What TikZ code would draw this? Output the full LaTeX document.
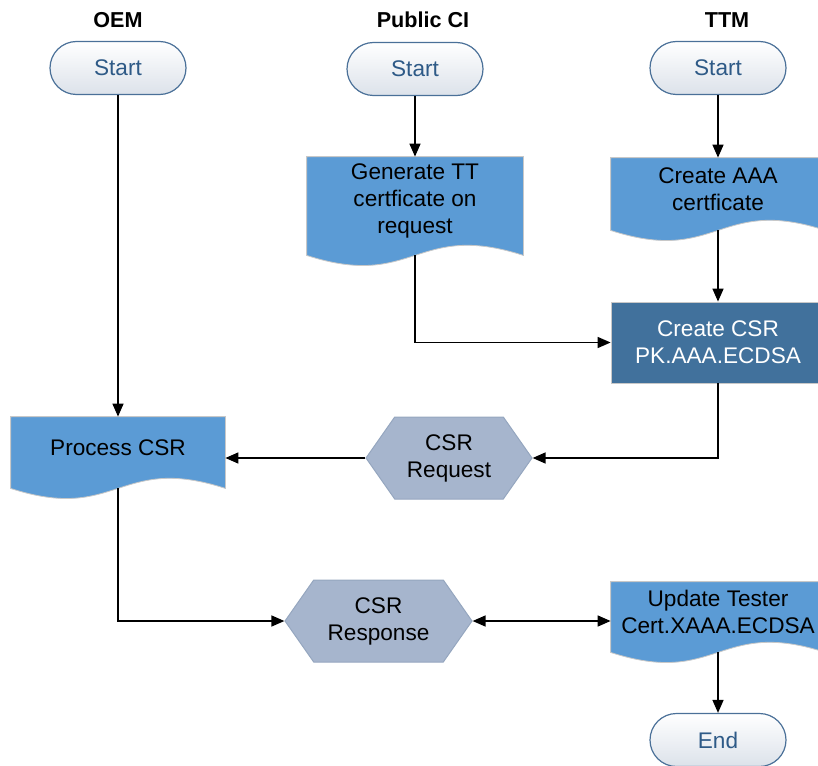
\documentclass[tikz,border=0pt]{standalone}
\usepackage{fontspec}
\setmainfont{Liberation Sans}
\usetikzlibrary{arrows.meta,calc,backgrounds,shapes.symbols}
\definecolor{docblue}{HTML}{5B9BD5}
\definecolor{csrblue}{HTML}{41719C}
\definecolor{hexgray}{HTML}{A6B5CD}
\definecolor{hexedge}{HTML}{95A6BF}
\definecolor{termedge}{HTML}{4A7098}
\definecolor{termtext}{HTML}{2E5A87}
\definecolor{termfill}{HTML}{DCE2EA}
\definecolor{lightedge}{HTML}{C8C8C8}

\begin{document}
\begin{tikzpicture}[x=0.5pt, y=-0.5pt,
    font=\fontsize{11.3}{13.5}\selectfont,
    >={Triangle[length=6.5pt,width=5.5pt]},
    head/.style={font=\fontsize{10.8}{12}\selectfont\bfseries},
    term/.style={rectangle, rounded corners=13.25pt, draw=termedge, line width=0.6pt,
        top color=white, bottom color=termfill, text=termtext,
        minimum width=68pt, minimum height=26.5pt},
    doc/.style={inner sep=0pt, align=center, minimum width=#1},
    doc/.default=107pt,
    hex/.style={signal, signal to=east and west, signal pointer angle=110,
        fill=hexgray, draw=hexedge, line width=0.5pt, align=center, inner sep=0pt},
    flow/.style={line width=0.75pt, ->}]
    \useasboundingbox (0,0) rectangle (818,765);
    \clip (0,0) rectangle (818,765);

    % lane heads
    \node[head] (hoem) at (118,20) {OEM};
    \node[head] (hpci) at (423,20) {Public CI};
    \node[head] (httm) at (727,20) {TTM};

    \node[term] (ostart) at (118,68) {Start};
    \node[term] (pstart) at (415,69) {Start};
    \node[term] (tstart) at (718,68) {Start};

    \node[doc=108pt, minimum height=44pt] (gen) at (415,201) {Generate TT\\certficate on\\request};
    \node[doc, minimum height=31pt] (aaa) at (718,189) {Create AAA\\certficate};
    \node[doc, minimum height=40.5pt, fill=csrblue, draw=lightedge, line width=0.4pt, text=white] (csr) at (718,342.5) {Create CSR\\PK.AAA.ECDSA};
    \node[doc, minimum height=30.5pt] (proc) at (118,447.5) {Process CSR};
    \node[doc, minimum height=30pt] (upd) at (718,612) {Update Tester\\Cert.XAAA.ECDSA};

    \node[hex, minimum width=83pt, minimum height=41pt] (req) at (449,458) {CSR\\Request};
    \node[hex, minimum width=93.5pt, minimum height=41pt] (resp) at (378.5,621) {CSR\\Response};

    \node[term] (end) at (718,740) {End};

    % wavy document bodies
    \begin{scope}[on background layer]
        \foreach \n in {gen,aaa,proc,upd} {
            \filldraw[fill=docblue, draw=lightedge, line width=0.4pt] (\n.north west) -- (\n.north east)
                -- ($(\n.south east)+(0,10)$) .. controls ($(\n.south)+(0,-25)$) and ($(\n.south)+(0,45)$) .. ($(\n.south west)+(0,10)$) -- cycle;
            \coordinate (\n-b) at ($(\n.south)+(0,10)$);
        }
    \end{scope}

    \draw[flow] (ostart) -- (proc);
    \draw[flow] (pstart) -- (gen);
    \draw[flow] (tstart) -- (aaa);
    \draw[flow] (gen-b) |- (csr);
    \draw[flow] (aaa-b) -- (csr);
    \draw[flow] (csr) |- (req);
    \draw[flow] (req.west) -- (req.west -| proc.east);
    \draw[flow] (proc-b) |- (resp);
    \draw[flow, <->] (resp.east) -- (resp.east -| upd.west);
    \draw[flow] (upd-b) -- (end);
\end{tikzpicture}
\end{document}
